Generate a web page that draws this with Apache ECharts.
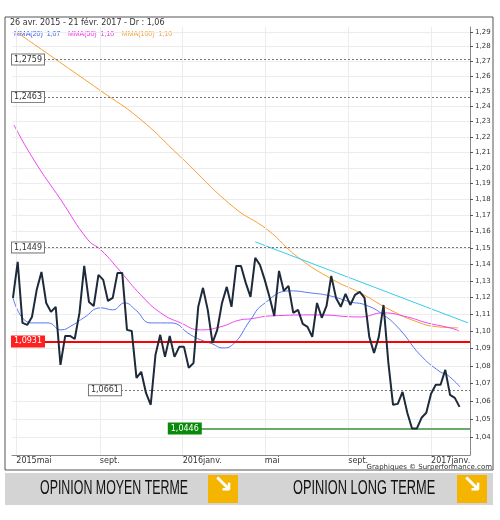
<!DOCTYPE html>
<html>
<head>
<meta charset="utf-8">
<script src="https://cdn.jsdelivr.net/npm/echarts@6/dist/echarts.min.js"></script>
<style>html,body{margin:0;padding:0;background:#fff}#main{width:500px;height:520px}</style>
</head>
<body>
<div id="main"></div>
<script>
// cours hebdo depuis le 26 avr. 2015
var startDate = Date.UTC(2015, 3, 26);
var weekMs = 7 * 86400000;
var price = [1.1198,1.1415,1.1050,1.1038,1.1085,1.1246,1.1354,1.1168,1.1115,1.1145,1.0806,1.0974,1.0974,1.0956,1.1109,1.1390,1.1174,1.1150,1.1336,1.1306,
	1.1180,1.1198,1.1348,1.1348,1.1009,1.1003,1.0732,1.0766,1.0646,1.0579,1.0864,1.0980,1.0852,1.0974,1.0852,1.0910,1.0910,1.0789,1.0817,1.1145,
	1.1258,1.1127,1.0933,1.1009,1.1168,1.1264,1.1145,1.1390,1.1390,1.1288,1.1204,
	1.1439,1.1396,1.1306,1.1204,1.1091,1.1360,1.1240,1.1270,1.1109,1.1127,1.1044,1.1027,1.0968,1.1168,1.1080,1.1150,1.1330,1.1198,1.1145,1.1222,
	1.1156,1.1216,1.1234,1.1198,1.0968,1.0875,1.0968,1.1156,1.0823,1.0579,1.0584,1.0652,1.0534,1.0446,1.0446,1.0506,1.0534,1.0641,1.0692,1.0692,
	1.0777,1.0635,1.0618,1.0567];
// moyennes mobiles : [semaine, valeur]
var mma20 = [[0,1.1198],[3.8,1.1050],[7.4,1.1050],[10.1,1.1009],[12.6,1.1038],[14.9,1.1080],[18.5,1.1139],[21,1.1127],[23.5,1.1168],
	[25.8,1.1127],[29,1.1050],[33.2,1.1050],[37.4,1.0980],[39.5,1.0951],[42,1.0927],[44.1,1.0904],[46.2,1.0922],[50,1.1068],[52.5,1.1156],
	[58.4,1.1240],[62.6,1.1228],[66.8,1.1210],[71,1.1174],[74.2,1.1156],[78,1.1097],[81.5,1.1009],[85.7,1.0864],[89.9,1.0766],[91.4,1.0749],[94.1,1.0680]];
var mma50 = [[0.2,1.2278],[4.4,1.2051],[10.1,1.1797],[15.8,1.1549],[18.5,1.1488],[22.7,1.1354],[26.9,1.1216],[31.1,1.1109],[35.3,1.1050],
	[39.5,1.1009],[43.7,1.1027],[47.9,1.1068],[50,1.1074],[54.2,1.1091],[64.1,1.1097],[73.1,1.1085],[77.9,1.1109],[83,1.1085],
	[87.2,1.1050],[92,1.1021],[93.9,1.1003]];
var mma100 = [[1.05,1.2893],[10.1,1.2689],[18.5,1.2502],[26.5,1.2323],[35.3,1.2070],[46.4,1.1753],[53.6,1.1611],[59.9,1.1445],
	[67.4,1.1306],[73.1,1.1228],[79.4,1.1127],[85.1,1.1056],[89.3,1.1027],[93.7,1.1021]];
var trend = [[51,1.1537],[95.8,1.1050]];
var levels = [1.2759, 1.2463, 1.1449];
var support1 = 1.0661, support2 = 1.0446, pivot = 1.0931;
var yTicks = [1.04,1.05,1.06,1.07,1.08,1.09,1.10,1.11,1.12,1.13,1.14,1.15,1.16,1.17,1.18,1.19,1.20,1.21,1.22,1.23,1.24,1.25,1.26,1.27,1.28,1.29];
var tickDates = [[2015,4,'2015mai'],[2015,8,'sept.'],[2016,0,'2016janv.'],[2016,4,'mai'],[2016,8,'sept.'],[2017,0,'2017janv.']];

// échelle logarithmique : on trace ln(cours)
var L = Math.log;
function wk(i) { return startDate + i * weekMs; }
function fr(v, d) { return v.toFixed(d).replace('.', ','); }
var priceData = price.map(function (v, i) { return [wk(i), L(v)]; });
function conv(arr) { return arr.map(function (p) { return [wk(p[0]), L(p[1])]; }); }
var tickMap = {};
tickDates.forEach(function (t) { tickMap[t[0] + '-' + t[1]] = t[2]; });
var xMin = wk(-0.2), xMax = wk(96.2);

var boxLabel = function (bg, fg, border, v) {
	return { show: true, position: 'insideStart', distance: 0, fontSize: 8, color: fg, formatter: fr(v, 4),
		backgroundColor: bg, borderColor: border, borderWidth: 1, padding: [1, 2], fontFamily: 'DejaVu Sans' };
};
var dashed = { color: '#777', type: [2, 2], width: 1 };
var hLines = levels.map(function (v) {
	return { yAxis: L(v), lineStyle: dashed, label: boxLabel('#fff', '#333', '#777', v) };
});

var myChart = echarts.init(document.getElementById('main'));
var option = {
	animation: false,
	textStyle: { fontFamily: 'DejaVu Sans' },
	grid: { left: 12, right: 30, top: 27, bottom: 65 },
	xAxis: {
		type: 'time', min: xMin, max: xMax, splitNumber: 22,
		axisLine: { lineStyle: { color: '#888' } }, axisTick: { show: false },
		splitLine: { show: false },
		axisLabel: {
			fontSize: 8, color: '#333', align: 'left', hideOverlap: false, margin: 2,
			formatter: function (v) { var d = new Date(v); if (d.getUTCDate() !== 1) return ''; return tickMap[d.getUTCFullYear() + '-' + d.getUTCMonth()] || ''; }
		}
	},
	yAxis: {
		type: 'value', position: 'right', min: L(1.03), max: L(1.29) + 5 / 1880,
		axisLine: { show: true, lineStyle: { color: '#888' } },
		axisTick: { show: true, length: 3, lineStyle: { color: '#555' }, customValues: yTicks.map(L) },
		splitLine: { lineStyle: { color: '#ececec' } },
		axisLabel: { fontSize: 7, color: '#333', margin: 5, customValues: yTicks.map(L),
			formatter: function (v) { return fr(Math.exp(v), 2); } }
	},
	graphic: [
		{ type: 'rect', shape: { x: 5, y: 17, width: 488, height: 453 }, style: { fill: 'none', stroke: '#555', lineWidth: 1 }, z: 0 },
		{ type: 'text', left: 10, top: 19, style: { text: '26 avr. 2015 - 21 févr. 2017 - Dr : 1,06', fontSize: 8, fill: '#333', fontFamily: 'DejaVu Sans' } },
		{ type: 'text', left: 14, top: 28, style: { rich: { a: { fill: '#3355ee', fontSize: 7 }, b: { fill: '#ee33ee', fontSize: 7 }, c: { fill: '#f5a030', fontSize: 7 } },
			text: '{a|MMA(20)  1,07}  {b|MMA(50)  1,10}  {c|MMA(100)  1,10}', fontFamily: 'DejaVu Sans' } },
		{ type: 'text', right: 8, top: 464, style: { text: 'Graphiques © Surperformance.com', fontSize: 7, fill: '#333', fontFamily: 'DejaVu Sans' } },
		{ type: 'rect', shape: { x: 5, y: 473, width: 488, height: 32 }, style: { fill: '#d4d4d4' } },
		{ type: 'text', x: 40, y: 478, scaleX: 0.62, style: { text: 'OPINION MOYEN TERME', fontSize: 20, fill: '#111', fontFamily: 'Liberation Sans' } },
		{ type: 'rect', shape: { x: 208, y: 475, width: 30, height: 28 }, style: { fill: '#f4b400' } },
		{ type: 'text', x: 213, y: 474, style: { text: '↘', fontSize: 24, fill: '#fff', fontWeight: 'bold', fontFamily: 'DejaVu Sans' } },
		{ type: 'text', x: 293, y: 478, scaleX: 0.64, style: { text: 'OPINION LONG TERME', fontSize: 20, fill: '#111', fontFamily: 'Liberation Sans' } },
		{ type: 'rect', shape: { x: 457, y: 475, width: 30, height: 28 }, style: { fill: '#f4b400' } },
		{ type: 'text', x: 462, y: 474, style: { text: '↘', fontSize: 24, fill: '#fff', fontWeight: 'bold', fontFamily: 'DejaVu Sans' } }
	],
	series: [
		{ type: 'line', data: [], markLine: { silent: true, symbol: 'none',
			data: tickDates.map(function (t) { return { xAxis: Date.UTC(t[0], t[1], 1), lineStyle: { color: '#ececec', type: 'solid', width: 1 }, label: { show: false } }; }) } },
		{ name: 'MMA100', type: 'line', data: conv(mma100), smooth: true, showSymbol: false, lineStyle: { color: '#f5a030', width: 1 } },
		{ name: 'MMA50', type: 'line', data: conv(mma50), smooth: true, showSymbol: false, lineStyle: { color: '#ee44ee', width: 1 } },
		{ name: 'MMA20', type: 'line', data: conv(mma20), smooth: true, showSymbol: false, lineStyle: { color: '#5577ee', width: 1 } },
		{ name: 'tendance', type: 'line', data: conv(trend), showSymbol: false, lineStyle: { color: '#33ccee', width: 1 } },
		{ name: 'cours', type: 'line', data: priceData, showSymbol: false, lineStyle: { color: '#1e2a3a', width: 2 }, z: 5,
			markLine: { silent: true, symbol: 'none', data: hLines.concat([
				{ yAxis: L(pivot), lineStyle: { color: '#ff0000', type: 'solid', width: 2 }, label: boxLabel('#ff2020', '#fff', '#ff2020', pivot) },
				[{ coord: [wk(16), L(support1)], lineStyle: dashed, label: boxLabel('#fff', '#333', '#777', support1) }, { x: 470, yAxis: L(support1) }],
				[{ coord: [wk(32.8), L(support2)], lineStyle: { color: '#6aaa6a', type: 'solid', width: 2 },
					label: boxLabel('#0a8a0a', '#fff', '#0a8a0a', support2) }, { x: 470, yAxis: L(support2) }]
			]) } }
	]
};
myChart.setOption(option);
</script>
</body>
</html>
